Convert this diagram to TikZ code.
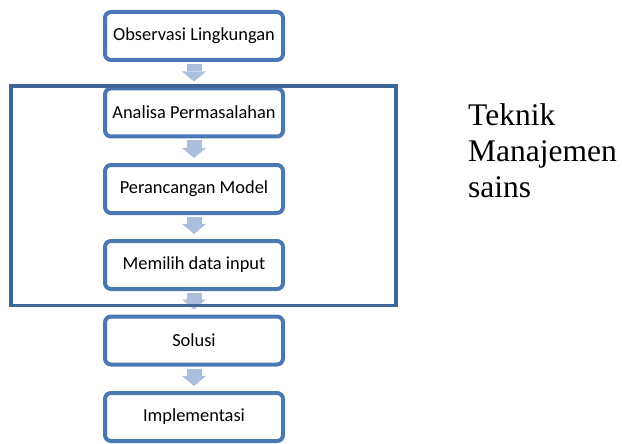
\documentclass[tikz,border=0pt]{standalone}
\usepackage{fontspec}
\newfontfamily\sidefont{Liberation Serif}
\newfontfamily\boxfont{Carlito}
\usetikzlibrary{arrows.meta}

\definecolor{boxblue}{HTML}{4A78B2}
\definecolor{frameblue}{HTML}{3D6799}
\definecolor{arrowblue}{HTML}{A9BFDD}

\tikzset{
  stepbox/.style={draw=boxblue, line width=4pt, fill=white, rounded corners=6pt,
    minimum width=178pt, minimum height=48pt, inner sep=0pt,
    font=\boxfont\fontsize{18.4}{22}\selectfont},
  flow/.style={draw=arrowblue, line width=15pt,
    -{Triangle[width=24pt, length=10pt, line width=0pt]},
    shorten <=2pt, shorten >=5pt},
  sidetext/.style={anchor=base west, inner sep=0pt,
    font=\sidefont\fontsize{31.5}{36}\selectfont}
}

\begin{document}
\begin{tikzpicture}[x=1pt, y=-1pt]
  \useasboundingbox (0,0) rectangle (622,444);

  % process steps
  \node[stepbox] (obs)  at (194,36)    {Observasi Lingkungan};
  \node[stepbox] (ana)  at (194,112.5) {Analisa Permasalahan};
  \node[stepbox] (ran)  at (194,189)   {Perancangan Model};
  \node[stepbox] (pil)  at (194,265)   {Memilih data input};
  \node[stepbox] (sol)  at (194,340.5) {Solusi};
  \node[stepbox] (imp)  at (194,417)   {Implementasi};

  % arrows between steps
  \draw[flow] (obs.south) -- (ana.north);
  \draw[flow] (ana.south) -- (ran.north);
  \draw[flow] (ran.south) -- (pil.north);
  \draw[flow] (pil.south) -- (sol.north);
  \draw[flow] (sol.south) -- (imp.north);

  % frame around the management-science steps
  \draw[frameblue, line width=3.5pt] (11,86) rectangle (396,305.5);

  % label of the framed group
  \node[sidetext] (t1) at (468,125) {Teknik};
  \node[sidetext] (t2) at (468,161) {Manajemen};
  \node[sidetext] (t3) at (468,197) {sains};
\end{tikzpicture}
\end{document}
